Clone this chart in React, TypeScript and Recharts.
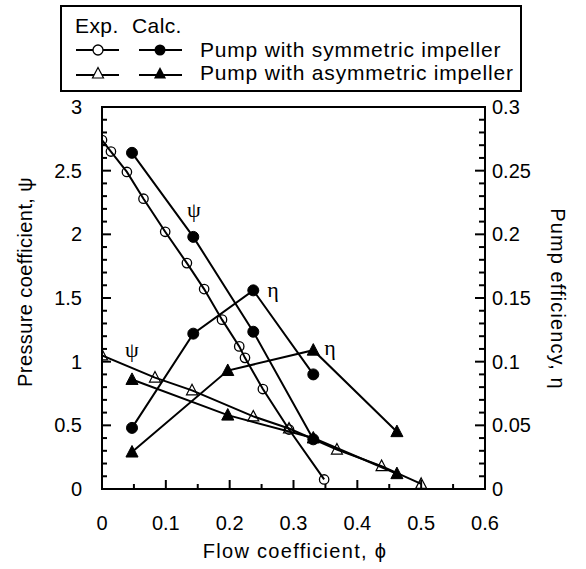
import React from 'react';
import { ComposedChart, Line, XAxis, YAxis, ReferenceArea, ReferenceDot, Legend } from 'recharts';

// Experimental, pump with symmetric impeller (psi)
const expSymmetricPsi = [
  { x: 0.0, y: 2.74 }, { x: 0.014, y: 2.65 }, { x: 0.039, y: 2.49 }, { x: 0.065, y: 2.28 },
  { x: 0.099, y: 2.02 }, { x: 0.133, y: 1.774 }, { x: 0.16, y: 1.57 }, { x: 0.188, y: 1.33 },
  { x: 0.215, y: 1.12 }, { x: 0.224, y: 1.03 }, { x: 0.252, y: 0.785 }, { x: 0.293, y: 0.467 },
  { x: 0.348, y: 0.075 },
];
// Calculated, symmetric impeller
const calcSymmetricPsi = [
  { x: 0.047, y: 2.64 }, { x: 0.143, y: 1.98 }, { x: 0.237, y: 1.235 }, { x: 0.331, y: 0.39 },
];
const calcSymmetricEta = [
  { x: 0.047, y: 0.048 }, { x: 0.143, y: 0.122 }, { x: 0.237, y: 0.156 }, { x: 0.331, y: 0.09 },
];
// Experimental, asymmetric impeller (psi)
const expAsymmetricPsi = [
  { x: 0.0, y: 1.05 }, { x: 0.083, y: 0.875 }, { x: 0.141, y: 0.775 }, { x: 0.237, y: 0.57 },
  { x: 0.293, y: 0.475 }, { x: 0.368, y: 0.31 }, { x: 0.438, y: 0.18 }, { x: 0.5, y: 0.04 },
];
// Calculated, asymmetric impeller
const calcAsymmetricPsi = [
  { x: 0.047, y: 0.86 }, { x: 0.197, y: 0.58 }, { x: 0.331, y: 0.4 }, { x: 0.462, y: 0.12 },
];
const calcAsymmetricEta = [
  { x: 0.047, y: 0.029 }, { x: 0.197, y: 0.093 }, { x: 0.331, y: 0.109 }, { x: 0.462, y: 0.045 },
];

const xTicks = [0, 0.05, 0.1, 0.15, 0.2, 0.25, 0.3, 0.35, 0.4, 0.45, 0.5, 0.55, 0.6];
const xTickLabels = ['0', '0.1', '0.2', '0.3', '0.4', '0.5', '0.6'];
const leftTicks = [
  0, 0.1, 0.2, 0.3, 0.4, 0.5, 0.6, 0.7, 0.8, 0.9, 1, 1.1, 1.2, 1.3, 1.4, 1.5, 1.6, 1.7, 1.8, 1.9,
  2, 2.1, 2.2, 2.3, 2.4, 2.5, 2.6, 2.7, 2.8, 2.9, 3,
];
const leftTickLabels = ['0', '0.5', '1', '1.5', '2', '2.5', '3'];
const rightTicks = [
  0, 0.01, 0.02, 0.03, 0.04, 0.05, 0.06, 0.07, 0.08, 0.09, 0.1, 0.11, 0.12, 0.13, 0.14, 0.15,
  0.16, 0.17, 0.18, 0.19, 0.2, 0.21, 0.22, 0.23, 0.24, 0.25, 0.26, 0.27, 0.28, 0.29, 0.3,
];
const rightTickLabels = ['0', '0.05', '0.1', '0.15', '0.2', '0.25', '0.3'];

const FONT = '"Liberation Sans", Arial, sans-serif';
const SERIF = '"Liberation Serif", "DejaVu Serif", serif';

const labelFor = (v: number, labels: string[]) => {
  const found = labels.find((l) => Math.abs(parseFloat(l) - v) < 1e-9);
  return found;
};

const XTick = (props: any) => {
  const { x, y, payload } = props;
  const lbl = labelFor(payload.value, xTickLabels);
  const len = lbl ? 9 : 5;
  return (
    <g>
      <line x1={x} x2={x} y1={y} y2={y - len} stroke="#000" strokeWidth={2} />
      {lbl && (
        <text x={x} y={y + 41} textAnchor="middle" fontSize={20} fontFamily={FONT} fill="#000">
          {lbl}
        </text>
      )}
    </g>
  );
};

const LeftTick = (props: any) => {
  const { x, y, payload } = props;
  const lbl = labelFor(payload.value, leftTickLabels);
  const len = lbl ? 9 : 5;
  return (
    <g>
      <line x1={x} x2={x + len} y1={y} y2={y} stroke="#000" strokeWidth={2} />
      {lbl && (
        <text x={x - 20} y={y + 7} textAnchor="end" fontSize={20} fontFamily={FONT} fill="#000">
          {lbl}
        </text>
      )}
    </g>
  );
};

const RightTick = (props: any) => {
  const { x, y, payload } = props;
  const lbl = labelFor(payload.value, rightTickLabels);
  const len = lbl ? 10 : 6;
  return (
    <g>
      <line x1={x} x2={x - len} y1={y} y2={y} stroke="#000" strokeWidth={2} />
      {lbl && (
        <text x={x + 7} y={y + 7} textAnchor="start" fontSize={20} fontFamily={FONT} fill="#000">
          {lbl}
        </text>
      )}
    </g>
  );
};

const OpenCircle = (props: any) => {
  const { cx, cy } = props;
  if (cx == null || cy == null) return <g />;
  return <circle cx={cx} cy={cy} r={4.7} fill="none" stroke="#000" strokeWidth={1.3} />;
};
const FilledCircle = (props: any) => {
  const { cx, cy } = props;
  if (cx == null || cy == null) return <g />;
  return <circle cx={cx} cy={cy} r={5.5} fill="#000" stroke="#000" strokeWidth={1} />;
};
const triPath = (cx: number, cy: number, s: number) =>
  `M${cx},${cy - s * 0.6} L${cx + s * 0.55},${cy + s * 0.45} L${cx - s * 0.55},${cy + s * 0.45} Z`;
const OpenTriangle = (props: any) => {
  const { cx, cy } = props;
  if (cx == null || cy == null) return <g />;
  return <path d={triPath(cx, cy, 10)} fill="none" stroke="#000" strokeWidth={1.2} />;
};
const FilledTriangle = (props: any) => {
  const { cx, cy } = props;
  if (cx == null || cy == null) return <g />;
  return <path d={triPath(cx, cy, 11)} fill="#000" stroke="#000" strokeWidth={1} />;
};

const TextLabel = (text: string) => (props: any) => {
  const vb = props.viewBox || {};
  const cx = vb.cx ?? vb.x;
  const cy = vb.cy ?? vb.y;
  return (
    <text x={cx} y={cy + 7} textAnchor="middle" fontSize={22} fontFamily={SERIF} fill="#000">
      {text}
    </text>
  );
};

const LeftTitle = (props: any) => (
  <text
    x={25}
    y={282}
    transform="rotate(-90 25 282)"
    textAnchor="middle"
    dominantBaseline="central"
    fontSize={20}
    fontFamily={FONT}
    letterSpacing={0.4}
    fill="#000"
  >
    Pressure coefficient, ψ
  </text>
);
const RightTitle = (props: any) => (
  <text
    x={558}
    y={299}
    transform="rotate(90 558 299)"
    textAnchor="middle"
    dominantBaseline="central"
    fontSize={20}
    fontFamily={FONT}
    letterSpacing={1.1}
    fill="#000"
  >
    Pump efficiency, η
  </text>
);
const BottomTitle = (props: any) => (
  <text x={295} y={558} textAnchor="middle" fontSize={20} fontFamily={FONT} letterSpacing={1.3} fill="#000">
    Flow coefficient, ϕ
  </text>
);

const LegendBox = () => {
  const tri = (cx: number, cy: number, s: number) => triPath(cx, cy, s);
  return (
    <svg width={462} height={87} style={{ display: 'block' }}>
      <rect x={1} y={1} width={460} height={85} fill="#fff" stroke="#000" strokeWidth={2} />
      <text x={15} y={28} fontSize={21} fontFamily={FONT} letterSpacing={0.4} fill="#000">Exp.</text>
      <text x={72} y={28} fontSize={21} fontFamily={FONT} letterSpacing={0.4} fill="#000">Calc.</text>
      <line x1={16} x2={59} y1={45} y2={45} stroke="#000" strokeWidth={2} />
      <circle cx={38} cy={45} r={5} fill="#fff" stroke="#000" strokeWidth={1.3} />
      <line x1={79} x2={122} y1={45} y2={45} stroke="#000" strokeWidth={2} />
      <circle cx={100} cy={45} r={5.5} fill="#000" />
      <text x={140} y={52} fontSize={21} fontFamily={FONT} letterSpacing={0.8} fill="#000">Pump with symmetric impeller</text>
      <line x1={16} x2={59} y1={70} y2={70} stroke="#000" strokeWidth={2} />
      <path d={tri(38, 68.5, 10)} fill="#fff" stroke="#000" strokeWidth={1.2} />
      <line x1={79} x2={122} y1={70} y2={70} stroke="#000" strokeWidth={2} />
      <path d={tri(100, 68.5, 11)} fill="#000" />
      <text x={140} y={75} fontSize={21} fontFamily={FONT} letterSpacing={0.8} fill="#000">Pump with asymmetric impeller</text>
    </svg>
  );
};

export default function App() {
  const lineCommon = {
    type: 'linear' as const,
    dataKey: 'y',
    stroke: '#000',
    strokeWidth: 2,
    isAnimationActive: false,
    activeDot: false,
    legendType: 'none' as const,
  };
  return (
    <div style={{ position: 'absolute', left: 0, top: 0, width: 586, height: 569, background: '#fff' }}>
      <ComposedChart width={586} height={569} margin={{ top: 107, right: 0, bottom: 0, left: 0 }}>
        <XAxis
          type="number"
          dataKey="x"
          domain={[0, 0.6]}
          ticks={xTicks}
          interval={0}
          tickSize={0}
          tickMargin={0}
          tickLine={false}
          tick={(p: any) => <XTick {...p} />}
          height={80}
          allowDataOverflow
          axisLine={{ stroke: '#000', strokeWidth: 2 }}
          label={<BottomTitle />}
        />
        <YAxis
          yAxisId="left"
          type="number"
          domain={[0, 3]}
          ticks={leftTicks}
          interval={0}
          tickSize={0}
          tickMargin={0}
          tickLine={false}
          tick={(p: any) => <LeftTick {...p} />}
          width={102}
          allowDataOverflow
          axisLine={{ stroke: '#000', strokeWidth: 2 }}
          label={<LeftTitle />}
        />
        <YAxis
          yAxisId="right"
          orientation="right"
          type="number"
          domain={[0, 0.3]}
          ticks={rightTicks}
          interval={0}
          tickSize={0}
          tickMargin={0}
          tickLine={false}
          tick={(p: any) => <RightTick {...p} />}
          width={101}
          allowDataOverflow
          axisLine={{ stroke: '#000', strokeWidth: 2 }}
          label={<RightTitle />}
        />
        <ReferenceArea yAxisId="left" x1={0} x2={0.6} y1={0} y2={3} fill="none" stroke="#000" strokeWidth={2} />
        <Line {...lineCommon} yAxisId="left" data={expSymmetricPsi} dot={(p: any) => <OpenCircle key={p.index} {...p} />} name="expSymPsi" />
        <Line {...lineCommon} yAxisId="left" data={calcSymmetricPsi} dot={(p: any) => <FilledCircle key={p.index} {...p} />} name="calcSymPsi" />
        <Line {...lineCommon} yAxisId="right" data={calcSymmetricEta} dot={(p: any) => <FilledCircle key={p.index} {...p} />} name="calcSymEta" />
        <Line {...lineCommon} yAxisId="left" data={expAsymmetricPsi} dot={(p: any) => <OpenTriangle key={p.index} {...p} />} name="expAsymPsi" />
        <Line {...lineCommon} yAxisId="left" data={calcAsymmetricPsi} dot={(p: any) => <FilledTriangle key={p.index} {...p} />} name="calcAsymPsi" />
        <Line {...lineCommon} yAxisId="right" data={calcAsymmetricEta} dot={(p: any) => <FilledTriangle key={p.index} {...p} />} name="calcAsymEta" />
        <ReferenceDot yAxisId="left" x={0.144} y={2.19} r={0} fill="none" stroke="none" label={TextLabel('ψ')} />
        <ReferenceDot yAxisId="left" x={0.268} y={1.565} r={0} fill="none" stroke="none" label={TextLabel('η')} />
        <ReferenceDot yAxisId="left" x={0.047} y={1.094} r={0} fill="none" stroke="none" label={TextLabel('ψ')} />
        <ReferenceDot yAxisId="left" x={0.357} y={1.11} r={0} fill="none" stroke="none" label={TextLabel('η')} />
        <Legend
          layout="vertical"
          verticalAlign="middle"
          align="center"
          content={() => <LegendBox />}
          wrapperStyle={{ top: 5, left: 60, width: 462, height: 87 }}
        />
      </ComposedChart>
    </div>
  );
}
